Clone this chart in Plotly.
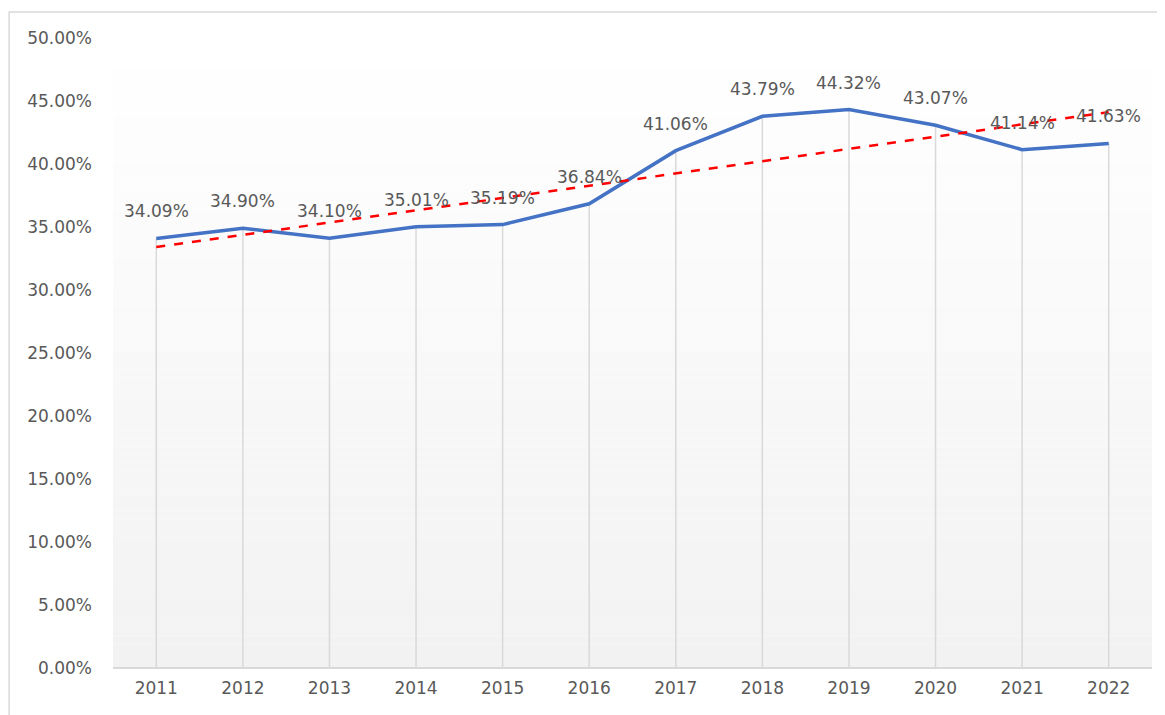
import numpy as np
import plotly.graph_objects as go

years = ["2011", "2012", "2013", "2014", "2015", "2016", "2017", "2018", "2019", "2020", "2021", "2022"]
values = [0.3409, 0.3490, 0.3410, 0.3501, 0.3519, 0.3684, 0.4106, 0.4379, 0.4432, 0.4307, 0.4114, 0.4163]
y_ticks = [0.0, 0.05, 0.10, 0.15, 0.20, 0.25, 0.30, 0.35, 0.40, 0.45, 0.50]

idx = np.arange(len(values))
slope, intercept = np.polyfit(idx, values, 1)
trend = intercept + slope * idx

FONT = "DejaVu Sans"
GRAY = "#595959"

fig = go.Figure()

# gradient plot background
n = 80
shapes = []
for i in range(n):
    t = i / (n - 1)
    c = int(round(255 - (255 - 242) * (1 - t)))
    shapes.append(dict(type="rect", xref="x domain", yref="y domain",
                       x0=0, x1=1, y0=i / n, y1=(i + 1) / n,
                       fillcolor=f"rgb({c},{c},{c})", line=dict(width=0), layer="below"))
# outer frame
shapes.append(dict(type="rect", xref="paper", yref="paper", x0=-0.1, x1=1.05, y0=-0.2, y1=1.0413,
                   line=dict(color="#d9d9d9", width=1.5), fillcolor="rgba(0,0,0,0)", layer="below"))

# drop lines from each point to the axis
drop_x, drop_y = [], []
for i, v in zip(idx, values):
    drop_x += [int(i), int(i), None]
    drop_y += [0, v, None]
fig.add_trace(go.Scatter(x=drop_x, y=drop_y, mode="lines",
                         line=dict(color="#d9d9d9", width=1.5),
                         showlegend=False, hoverinfo="skip"))

fig.add_trace(go.Scatter(
    x=idx, y=values, mode="lines",
    line=dict(color="#4472C4", width=3.5),
    showlegend=False, hoverinfo="skip"))

fig.add_trace(go.Scatter(
    x=idx, y=trend, mode="lines",
    line=dict(color="#FF0000", width=2.5, dash="dash"),
    showlegend=False, hoverinfo="skip"))

for i, v in zip(idx, values):
    fig.add_annotation(x=int(i), y=v, text=f"{v*100:.2f}%", showarrow=False,
                       yshift=27, font=dict(family=FONT, size=17, color=GRAY))

fig.update_layout(
    width=1157, height=707,
    margin=dict(l=105, r=13, t=30, b=47),
    paper_bgcolor="white", plot_bgcolor="rgba(0,0,0,0)",
    shapes=shapes,
    font=dict(family=FONT, size=17, color=GRAY),
)
fig.update_xaxes(range=[-0.5, 11.5], automargin=False,
                 tickvals=list(idx), ticktext=years,
                 showgrid=False, showline=False, zeroline=False, ticks="",
                 tickfont=dict(family=FONT, size=17, color=GRAY), ticklabelstandoff=8)
fig.update_yaxes(range=[0, 0.5], tickvals=y_ticks, tickformat=".2%", automargin=False,
                 showgrid=False, zeroline=True, zerolinecolor="#d9d9d9", zerolinewidth=1.5,
                 showline=False, ticks="",
                 tickfont=dict(family=FONT, size=17, color=GRAY), ticklabelstandoff=20)

fig.write_html("out.html")
